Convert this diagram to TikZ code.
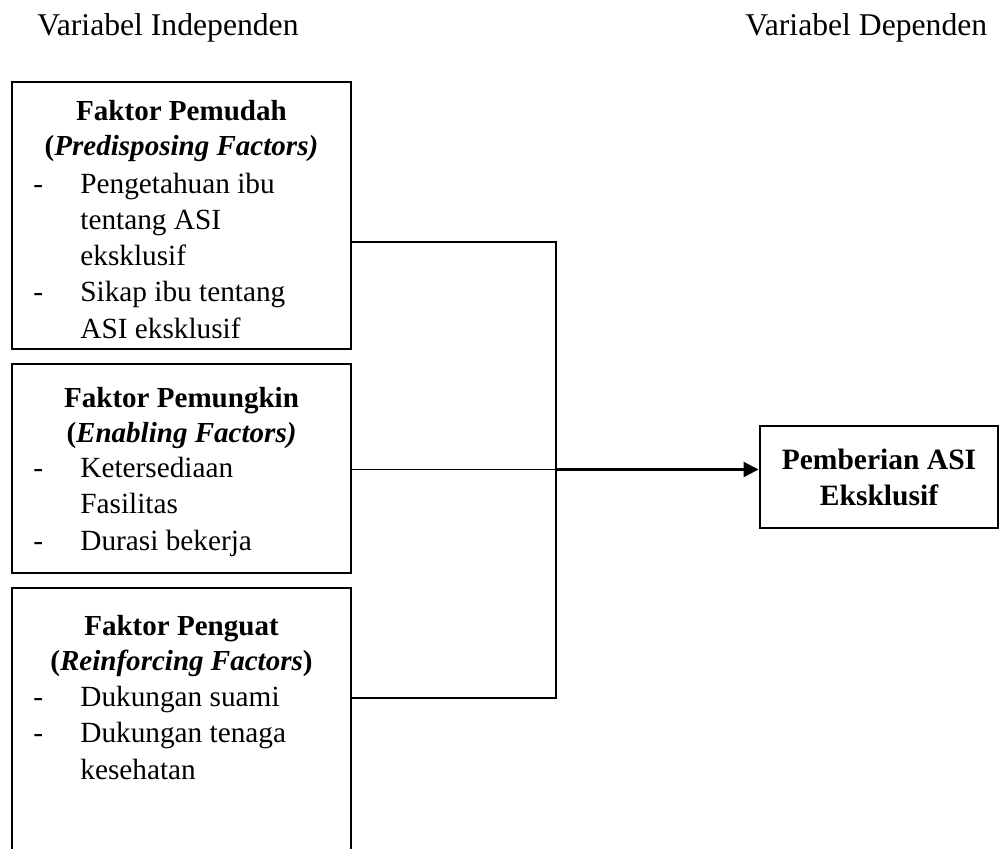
\documentclass[tikz,border=0pt]{standalone}
\usepackage{fontspec}
\setmainfont{Liberation Serif}
\usetikzlibrary{fit,arrows.meta}

\newcommand{\butir}[1]{\makebox[19.7pt][l]{-}#1}
\newcommand{\lanjut}[1]{\hspace*{19.7pt}#1}

\begin{document}
\begin{tikzpicture}[x=0.42pt, y=-0.42pt,
   kotak/.style={draw, line width=1.2pt, inner sep=0pt},
   kepala/.style={font=\fontsize{13.3}{16}\selectfont,
                  anchor=base west, inner sep=0pt},
   judul/.style={font=\fontsize{12.2}{14.7}\selectfont\bfseries,
                 align=center, anchor=base, inner sep=0pt},
   isi/.style={font=\fontsize{12.3}{15.2}\selectfont,
               align=left, anchor=base west, inner sep=0pt},
   garis/.style={black, line width=0.5pt},
   panah/.style={black, line width=1pt,
                 -{Triangle[length=6.3pt, width=6.3pt]}}]

   \useasboundingbox (0,0) rectangle (999,848);

   \node[kepala] (indep) at (37,35) {Variabel Independen};
   \node[kepala] (dep) at (745,35) {Variabel Dependen};

   %% kotak faktor
   \node[kotak, fit={(12,82) (351,349)}] (pemudah) {};
   \node[kotak, fit={(12,364) (351,573)}] (pemungkin) {};
   \node[kotak, fit={(12,588) (351,870)}] (penguat) {};

   %% anchor=base sits on the last line
   \node[judul] (jdl1) at (181.5,155)
        {Faktor Pemudah\\(\textit{Predisposing Factors)}};
   \node[isi] (isi1) at (33,338)
        {\butir{Pengetahuan ibu}\\ \lanjut{tentang ASI}\\
         \lanjut{eksklusif}\\ \butir{Sikap ibu tentang}\\
         \lanjut{ASI eksklusif}};

   \node[judul] (jdl2) at (181.5,442)
        {Faktor Pemungkin\\(\textit{Enabling Factors)}};
   \node[isi] (isi2) at (33,550)
        {\butir{Ketersediaan}\\ \lanjut{Fasilitas}\\
         \butir{Durasi bekerja}};

   \node[judul] (jdl3) at (181.5,670)
        {Faktor Penguat\\(\textit{Reinforcing Factors})};
   \node[isi] (isi3) at (33,779)
        {\butir{Dukungan suami}\\ \butir{Dukungan tenaga}\\
         \lanjut{kesehatan}};

   %% variabel dependen
   \node[kotak, minimum width=100pt, minimum height=42.8pt,
         font=\fontsize{12.4}{15.1}\selectfont\bfseries, align=center]
        (asi) at (879,477) {Pemberian ASI\\Eksklusif};

   %% penghubung
   \coordinate (atas) at (556,242);
   \coordinate (simpul) at (556,469.5);
   \coordinate (bawah) at (556,698);

   \draw[garis] (pemudah.east |- atas) -- (atas) -- (bawah)
        -- (penguat.east |- bawah);
   \draw[garis] (pemungkin.east |- simpul) -- (simpul);
   \draw[panah] (simpul) -- (asi.west |- simpul);

\end{tikzpicture}
\end{document}
